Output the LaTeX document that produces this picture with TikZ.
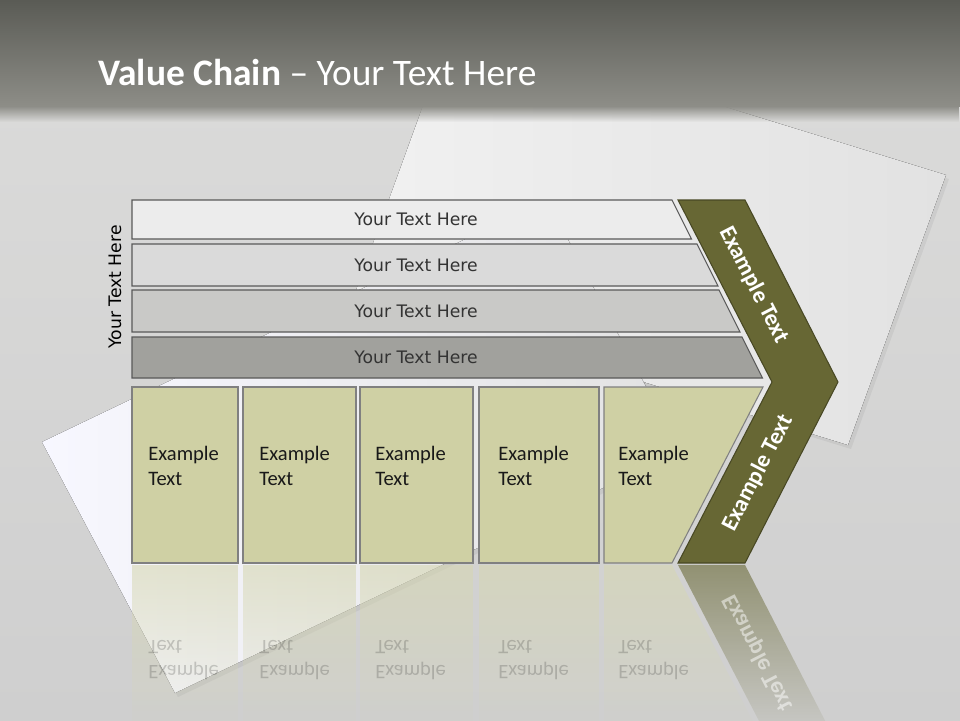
\documentclass[tikz,border=0pt]{standalone}
\usepackage{fontspec}
\setmainfont{Carlito}
\newfontfamily\vcsans{DejaVu Sans}
\usepackage{tikz}
\usetikzlibrary{fadings}
\definecolor{bandtop}{RGB}{90,91,85}
\definecolor{bandbot}{RGB}{141,141,135}
\definecolor{floortop}{RGB}{218,218,217}
\definecolor{floorbot}{RGB}{207,207,207}
\definecolor{sheetlight}{RGB}{241,241,241}
\definecolor{sheetdark}{RGB}{226,226,226}
\definecolor{rowA}{RGB}{236,236,236}
\definecolor{rowB}{RGB}{218,218,218}
\definecolor{rowC}{RGB}{201,201,199}
\definecolor{rowD}{RGB}{161,161,157}
\definecolor{boxolive}{RGB}{207,208,164}
\definecolor{chevolive}{RGB}{103,103,52}
\tikzfading[name=vcreflect, top color=transparent!40, bottom color=transparent!100]
\tikzfading[name=vcfadedown, top color=transparent!0, bottom color=transparent!100]
\tikzset{
    vcrow/.style={draw=black!65, line width=0.6pt},
    vcbox/.style={draw=black!50, line width=0.6pt, fill=boxolive},
    vcchevron/.style={draw=chevolive!70!black, line width=0.6pt, fill=chevolive},
    vcsheet/.style={left color=sheetlight, right color=sheetdark},
    vcshadow/.style={fill=black, opacity=0.05},
    vcrowtext/.style={font=\vcsans\fontsize{9.8}{11}\selectfont, text=black!80, inner sep=0pt},
    vcboxtext/.style={font=\fontsize{11.7}{14.2}\selectfont, align=left, anchor=west, inner sep=0pt, text=black!90},
    vcchevtext/.style={font=\bfseries\fontsize{13.3}{16}\selectfont, text=white, inner sep=0pt},
    vcmirror/.style={fill=#1, path fading=vcreflect}
}
\begin{document}
\begin{tikzpicture}[x=0.02cm, y=-0.02cm]
  \useasboundingbox (0,0) rectangle (960,720);
  % floor and paper sheets
  \fill[top color=floortop, bottom color=floorbot] (0,100) rectangle (960,720);
  \fill[vcshadow] (456,27) -- (949,179) -- (851,449) -- (358,297) -- cycle;
  \fill[vcsheet] (453,23) -- (946,175) -- (848,445) -- (355,293) -- cycle;
  \fill[vcshadow] (45,446) -- (550,204) -- (683,455) -- (178,697) -- cycle;
  \fill[left color=white!97!blue, right color=sheetdark] (42,442) -- (547,200) -- (680,451) -- (175,693) -- cycle;
  % header band
  \fill[top color=bandtop, bottom color=bandbot] (0,0) rectangle (960,106);
  \fill[bandbot, path fading=vcfadedown] (0,106) rectangle (960,122);
  \node[anchor=base west, text=white, font=\fontsize{21.3}{25}\selectfont, inner sep=0pt]
        (title) at (98,85) {\textbf{Value Chain} – Your Text Here};
  % support rows
  \foreach \ytop/\ybot/\xr/\col [count=\i] in
      {200/239/672/rowA, 244/286/697/rowB, 290/332/719/rowC, 337/378/742/rowD} {
    \draw[vcrow, fill=\col] (132,\ytop) -- (\xr,\ytop) -- ({\xr+0.5*(\ybot-\ytop)},\ybot)
          -- (132,\ybot) -- cycle;
    \node[vcrowtext] (row\i) at (416,{(\ytop+\ybot)/2}) {Your Text Here};
  }
  \node[vcrowtext, rotate=90, text=black] (side) at (115,287) {Your Text Here};
  % primary boxes
  \foreach \xa/\xb/\tx [count=\i] in {132/238/148, 243/356/259, 360/473/375, 479/599/498} {
    \draw[vcbox] (\xa,387) rectangle (\xb,563);
    \node[vcboxtext] (box\i) at (\tx,465.5) {Example\\Text};
    \fill[vcmirror=boxolive!85!white] (\xa,565) rectangle (\xb,741);
    \node[vcboxtext, yscale=-1, text opacity=0.2] (mirror\i) at (\tx,660.5) {Example\\Text};
  }
  \draw[vcbox] (604,387) -- (763,387) -- (672,563) -- (604,563) -- cycle;
  \node[vcboxtext] (box5) at (618,465.5) {Example\\Text};
  \fill[vcmirror=boxolive!85!white] (604,565) -- (672,565) -- (763,741) -- (604,741) -- cycle;
  \node[vcboxtext, yscale=-1, text opacity=0.2] (mirror5) at (618,660.5) {Example\\Text};
  % margin chevron
  \draw[vcchevron] (678,200) -- (745,200) -- (838,382) -- (745,563) -- (678,563) -- (772,382) -- cycle;
  \node[vcchevtext, rotate=-62.7] (chevup) at (754,285) {Example Text};
  \node[vcchevtext, rotate=62.7] (chevdown) at (758,473) {Example Text};
  \fill[vcmirror=chevolive] (678,565) -- (745,565) -- (838,746) -- (772,746) -- cycle;
  \node[vcchevtext, rotate=-62.7, yscale=-1, text opacity=0.5] (chevmirror) at (758,653) {Example Text};
\end{tikzpicture}
\end{document}
